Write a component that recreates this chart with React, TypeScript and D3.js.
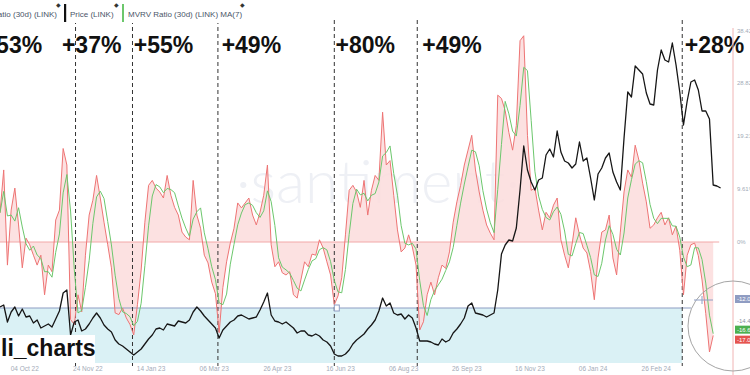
import React from "react";
import * as d3 from "d3";

// ---- data (3-day samples starting 2022-09-14) ----
const startDate = "2022-09-14";
const endDate = "2024-04-28";
const stepDays = 3;

// MVRV Ratio (30d) LINK, in %
const mvrv = [
  5.3, 13.1, -4.2, 5.8, 9.8, 3.1, -4.7, 0.7, -0.5, -2.4,
  -4.2, -2.4, -9.6, -4.2, -5.4, 4.0, 5.8, 17.0, 14.0, -14.1,
  -15.0, -9.6, -12.7, -2.4, 4.9, 7.6, 12.1, 8.0, 3.6, -0.5,
  -4.7, -12.9, -13.2, -12.0, -13.8, -15.0, -16.9, -11.4, -5.1, 3.6,
  10.3, 11.2, 9.8, 9.1, 8.0, 12.1, 8.5, 6.3, 4.9, 1.8,
  0.9, 0.4, 11.2, 4.9, 2.5, -2.4, -3.8, -7.3, -9.4, -16.5,
  -8.3, -3.6, -0.2, 2.5, 7.1, 6.2, 7.1, 8.0, 4.9, 3.1,
  5.4, 8.5, 14.0, -0.5, -4.5, -3.6, -5.6, -6.0, -5.4, -9.6,
  -10.2, -6.9, -3.6, -4.5, -2.2, -2.4, 0.4, -1.1, -3.6, -6.0,
  -11.4, -9.8, -6.5, 1.3, 9.4, 10.3, 9.1, 6.3, 11.2, 4.9,
  9.4, 12.1, 11.2, 23.6, 14.0, 14.8, 8.5, 2.2, -1.8, -1.1,
  1.3, -0.9, -4.2, -16.0, -14.5, -9.6, -7.3, -9.6, -6.5, -4.2,
  -4.8, -1.8, 3.6, 7.3, 10.3, 14.0, 16.7, 19.4, 13.1, 9.1,
  5.8, 3.1, 1.6, 0.4, 26.7, 26.1, 23.9, 19.9, 16.7, 21.2,
  36.6, 37.5, 19.4, 9.4, 9.8, 5.8, 2.2, 5.4, 4.4, 6.7,
  8.0, 0.4, -2.4, -4.7, -0.5, 4.4, 1.3, -1.1, -2.0, -5.4,
  -10.5, -2.9, 1.8, 2.2, 4.9, -2.9, -6.0, 1.8, 9.1, 13.1,
  11.8, 17.6, 14.9, 10.7, 7.3, 2.5, 3.1, 4.4, 5.4, 3.1,
  4.4, 1.3, 2.9, -1.5, -9.6, -2.4, -0.5, -0.2, -2.5, -6.9,
  -13.0, -20.0, -17.0,
];

// Price (LINK), USD
const price = [
  8.0, 8.1, 7.25, 7.75, 8.0, 7.55, 7.9, 7.5, 7.55, 7.2,
  7.35, 6.95, 7.05, 7.15, 7.0, 7.4, 7.8, 8.7, 8.85, 6.6,
  7.25, 7.35, 6.8, 6.9, 7.15, 7.45, 7.7, 7.45, 7.1, 6.9,
  6.75, 6.35, 6.15, 6.05, 5.9, 5.75, 5.6, 5.75, 5.9, 6.15,
  6.4, 6.6, 6.9, 6.95, 6.85, 7.15, 7.1, 7.05, 7.3, 7.25,
  7.2, 7.35, 7.75, 8.0, 7.8, 7.55, 7.35, 7.15, 6.95, 6.45,
  6.85, 7.05, 7.25, 7.35, 7.55, 7.6, 7.5, 7.4, 7.45, 7.5,
  7.85, 8.25, 8.7, 7.6, 7.3, 7.25, 7.15, 7.25, 7.1, 6.95,
  6.7, 6.8, 6.8, 6.6, 6.55, 6.65, 6.55, 6.35, 6.25, 6.05,
  5.65, 5.55, 5.55, 5.65, 5.85, 6.15, 6.35, 6.5, 6.65, 6.9,
  7.1, 7.35, 7.8, 8.45, 8.05, 8.2, 7.7, 7.6, 7.65, 7.4,
  7.6, 7.45, 6.95, 6.3, 6.3, 6.3, 6.25, 6.15, 6.1, 6.4,
  6.25, 6.35, 6.7, 6.9, 7.15, 7.45, 8.05, 8.2, 7.7, 7.65,
  7.6, 7.5, 7.6, 7.7, 8.85, 10.65, 11.1, 11.35, 11.3, 11.95,
  13.85, 16.05, 14.85, 14.25, 13.85, 14.35, 14.45, 15.6, 15.9, 15.5,
  16.8, 15.75, 15.3, 15.2, 14.95, 15.15, 16.25, 15.3, 15.45, 14.45,
  13.35, 14.65, 14.95, 15.45, 15.7, 14.75, 14.25, 13.85, 16.45, 18.75,
  18.5, 20.05, 19.85, 19.65, 18.7, 18.15, 18.1, 19.85, 20.85, 20.35,
  20.25, 21.2, 20.1, 18.75, 17.1, 18.3, 19.25, 19.35, 18.85, 17.8,
  17.8, 17.4, 14.1, 14.05, 13.95,
];

const tickDates = [
  "2022-10-04", "2022-11-24", "2023-01-14", "2023-03-06", "2023-04-26", "2023-06-16",
  "2023-08-06", "2023-09-26", "2023-11-16", "2024-01-06", "2024-02-26",
];
const lowDates = ["2022-11-14", "2022-12-30", "2023-03-09", "2023-06-11", "2023-08-17", "2024-03-18"];
const gainLabels = ["+53%", "+37%", "+55%", "+49%", "+80%", "+49%", "+28%"];
const gainDates = ["2022-08-31", "2022-11-03", "2022-12-31", "2023-03-12", "2023-06-12", "2023-08-21", "2024-03-20"];
const axisTicks = [38.42, 28.82, 19.21, 9.61, 0];
const extraTick = -14.41;
const refLevel = -12;
const maWindow = 3; // 3 samples ≈ 7-day MA lag

const parse = d3.timeParse("%Y-%m-%d");

export default function App() {
  const t0 = parse(startDate) as Date;
  const dateAt = (i: number) => d3.timeDay.offset(t0, i * stepDays);
  const x = d3.scaleTime().domain([parse(startDate) as Date, parse(endDate) as Date]).range([0, 733]);
  const y = d3.scaleLinear().domain([0, 38.42]).range([242, 30.7]);
  const yP = d3.scaleLinear().domain([5, 22]).range([367, 27]);

  const mvrvMA = mvrv.map((_, i) => d3.mean(mvrv.slice(Math.max(0, i - maWindow + 1), i + 1)) as number);

  const line = d3.line<number>().x((_, i) => x(dateAt(i))).y((d) => y(d));
  const lineP = d3.line<number>().x((_, i) => x(dateAt(i))).y((d) => yP(d));
  const area = d3.area<number>().x((_, i) => x(dateAt(i))).y0(y(0)).y1((d) => y(d));

  const lastX = x(dateAt(mvrv.length - 1));
  const bandEnd = x(parse(lowDates[lowDates.length - 1]) as Date);
  const fmtDate = d3.timeFormat("%d %b %y");
  const bottom = 363;

  const maLast = mvrvMA[mvrvMA.length - 1];
  const mvLast = mvrv[mvrv.length - 1];
  const greenY = y(maLast) - 4;
  const redY = Math.max(y(mvLast), greenY + 10);

  const font = "'Liberation Sans', Arial, sans-serif";

  return (
    <svg width={750} height={375} style={{ position: "absolute", left: 0, top: 0, background: "#fff" }}>
      <rect x={0} y={0} width={750} height={375} fill="#fff" />
      {/* watermark */}
      <text x={378} y={203} textAnchor="middle" fontFamily="Lato, sans-serif" fontWeight={300} fontSize={60} fill="#eef0f5">
        ·santiment·
      </text>
      {/* low band */}
      <rect x={0} y={y(refLevel)} width={bandEnd} height={bottom - y(refLevel)} fill="#daf1f5" />
      {/* MVRV area */}
      <path d={area(mvrv) || ""} fill="#fbdcdc" fillOpacity={0.85} />
      <line x1={0} x2={lastX + 6} y1={y(0)} y2={y(0)} stroke="#f2a8a8" strokeWidth={1} />
      <line x1={0} x2={bandEnd + 9} y1={y(refLevel)} y2={y(refLevel)} stroke="#8e9ec4" strokeWidth={1.2} />
      {/* dashed cycle lows */}
      {lowDates.map((d) => (
        <line key={d} x1={x(parse(d) as Date)} x2={x(parse(d) as Date)} y1={20} y2={366}
          stroke="#333" strokeWidth={1} strokeDasharray="4,3" />
      ))}
      {/* lines */}
      <path d={line(mvrv) || ""} fill="none" stroke="#ee7474" strokeWidth={1} />
      <path d={line(mvrvMA) || ""} fill="none" stroke="#6cc76c" strokeWidth={1} />
      <path d={lineP(price) || ""} fill="none" stroke="#161616" strokeWidth={1.3} strokeLinejoin="round" />
      <rect x={x(parse(lowDates[3]) as Date)} y={y(refLevel) - 3} width={5} height={6} fill="#fff" stroke="#8e9ec4" strokeWidth={1} />
      {/* gain labels */}
      {gainLabels.map((g, i) => (
        <text key={i} x={x(parse(gainDates[i]) as Date)} y={53} fontFamily={font} fontWeight={700} fontSize={23} fill="#111">
          {g}
        </text>
      ))}
      {/* legend */}
      <rect x={0} y={0} width={250} height={23} fill="#fff" />
      <text x={57} y={17} textAnchor="end" fontFamily={font} fontSize={8} fill="#4a5568">MVRV Ratio (30d) (LINK)</text>
      <rect x={64} y={4} width={2.2} height={18} fill="#111" />
      <text x={70} y={17} fontFamily={font} fontSize={8} fill="#4a5568">Price (LINK)</text>
      <rect x={122} y={4} width={2} height={18} fill="#6cc76c" />
      <text x={128} y={17} fontFamily={font} fontSize={8} fill="#4a5568">MVRV Ratio (30d) (LINK) MA(7)</text>
      {[58, 116, 242].map((px) => (
        <text key={px} x={px} y={7} fontSize={6} fill="#333" textAnchor="middle">◆</text>
      ))}
      {/* right axis */}
      <line x1={733} x2={733} y1={28} y2={375} stroke="#f0b4b4" strokeWidth={1} />
      {axisTicks.map((t) => (
        <text key={t} x={737} y={y(t) + 2} fontFamily={font} fontSize={6} fill="#a3abb8">
          {`${t}%`}
        </text>
      ))}
      <text x={737} y={y(extraTick) + 2} fontFamily={font} fontSize={6} fill="#8a93a3">{`${extraTick}%`}</text>
      <rect x={735} y={y(refLevel) - 13} width={20} height={8} fill="#8f9cc2" />
      <text x={737} y={y(refLevel) - 6.5} fontFamily={font} fontSize={6} fill="#fff">{`${refLevel.toFixed(2)}%`}</text>
      <rect x={735} y={greenY - 4} width={20} height={8} fill="#4cb050" />
      <text x={737} y={greenY + 2.5} fontFamily={font} fontSize={6} fill="#fff">{`${maLast.toFixed(2)}%`}</text>
      <rect x={735} y={redY - 4} width={20} height={8} fill="#e5534f" />
      <text x={737} y={redY + 2.5} fontFamily={font} fontSize={6} fill="#fff">{`${mvLast.toFixed(2)}%`}</text>
      {/* magnifier */}
      <circle cx={733} cy={326} r={45} fill="none" stroke="#a5a5a5" strokeWidth={1} />
      <line x1={694} x2={713} y1={300} y2={300} stroke="#8e9ec4" strokeWidth={1} />
      <line x1={702} x2={702} y1={296} y2={304} stroke="#8e9ec4" strokeWidth={1} />
      {/* date axis */}
      {tickDates.map((d) => (
        <text key={d} x={x(parse(d) as Date)} y={371} textAnchor="middle" fontFamily={font} fontSize={6.5} fill="#a3abb8">
          {fmtDate(parse(d) as Date)}
        </text>
      ))}
      {/* author tag */}
      <rect x={0} y={335} width={95} height={28} fill="#fff" />
      <text x={1} y={356} fontFamily={font} fontWeight={700} fontSize={23} fill="#111">li_charts</text>
    </svg>
  );
}
